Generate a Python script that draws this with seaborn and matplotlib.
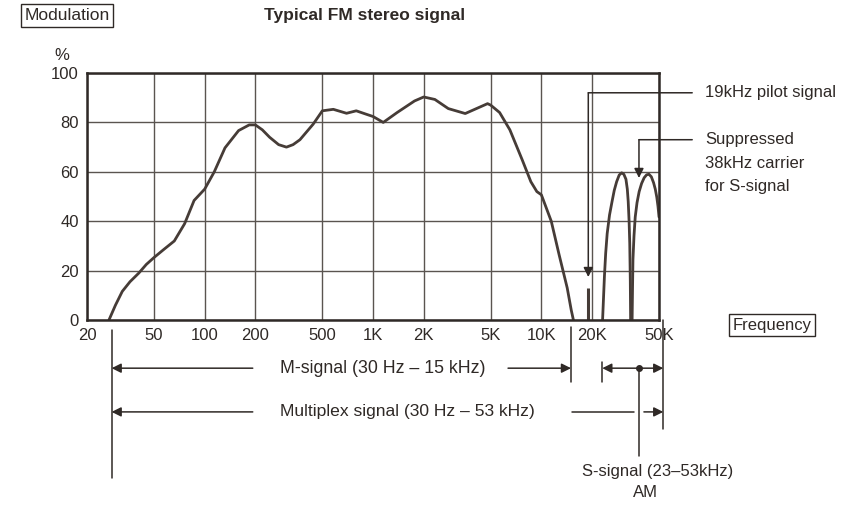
import matplotlib
matplotlib.use("Agg")
import matplotlib.pyplot as plt
import matplotlib.transforms as mtransforms
from matplotlib.ticker import NullLocator
import pandas as pd
import seaborn as sns

# M-signal spectrum (Hz, % modulation)
m_freq = [27, 29.5, 32.4, 36, 40.6, 45, 50, 57, 66, 76, 86.5, 100, 114, 132,
          159, 184, 200, 220, 243, 275, 306, 335, 368, 441, 500, 581, 696,
          795, 913, 1000, 1150, 1390, 1765, 2000, 2330, 2800, 3530, 4240,
          4790, 5000, 5650, 6500, 7680, 8660, 9400, 10000, 11450, 12750,
          14240, 15050, 15500]
m_level = [0, 6, 11.6, 15.5, 19, 22.5, 25.3, 28.5, 32, 39, 48.4, 53, 60, 69.7,
           76.7, 79, 79, 77, 74, 71, 70, 71, 73, 79.3, 84.7, 85.3, 83.7,
           84.7, 83.3, 82.4, 80, 84, 88.7, 90.3, 89.3, 85.6, 83.6, 86,
           87.6, 87, 84, 77, 65, 56, 52, 50.7, 40, 26.4,
           13, 4, 0]

# S-signal sidebands around the suppressed 38 kHz carrier
lobe1_freq = [23100, 23400, 23700, 24100, 24600, 25400, 26300, 27100, 28000,
              29000, 30000, 30900, 31800, 32400, 32800, 33200, 33500, 33750, 33900]
lobe1_level = [0, 9, 17.9, 27, 35, 42.5, 48, 52.5, 56,
               58.7, 59.6, 59, 57, 53, 48, 40, 31, 16, 0]
lobe2_freq = [34600, 34800, 35000, 35500, 36100, 37000, 38100, 39400, 40800,
              42200, 43600, 45000, 46400, 47500, 48500, 49300, 50000]
lobe2_level = [0, 13, 24.5, 34, 41.7, 47.5, 52, 55.3, 57.6,
               58.8, 59, 58, 55.6, 53, 49.7, 46, 41.7]

pilot_freq = 19000
pilot_level = 13
carrier_freq = 38000

# signal bands (Hz)
m_band = (28, 15000)
mpx_band = (28, 53000)
s_band = (23000, 53000)

freq_ticks = [20, 50, 100, 200, 500, 1000, 2000, 5000, 10000, 20000, 50000]
freq_labels = ["20", "50", "100", "200", "500", "1K", "2K", "5K", "10K", "20K", "50K"]
level_ticks = [0, 20, 40, 60, 80, 100]

INK = "#2f2926"
CURVE = "#463c37"
GRID = "#5a5450"

sns.set_theme(style="white")
plt.rcParams["font.family"] = ["Liberation Sans", "DejaVu Sans"]

fig = plt.figure(figsize=(8.54, 5.05), dpi=100)
ax = fig.add_axes([0.1019, 0.3663, 0.6698, 0.4891])

rows = []
for seg, (fx, lv) in enumerate([(m_freq, m_level), (lobe1_freq, lobe1_level),
                                (lobe2_freq, lobe2_level)]):
    for f, v in zip(fx, lv):
        rows.append({"freq": f, "level": v, "segment": seg})
df = pd.DataFrame(rows)

sns.lineplot(data=df, x="freq", y="level", units="segment", estimator=None,
             sort=False, color=CURVE, lw=2, ax=ax)
ax.vlines(pilot_freq, 0, pilot_level, color=CURVE, lw=2.2)

ax.set_xscale("log")
ax.set_xlim(20, 50000)
ax.set_ylim(0, 100)
ax.set_xticks(freq_ticks, freq_labels)
ax.xaxis.set_minor_locator(NullLocator())
ax.set_yticks(level_ticks)
ax.grid(True, color=GRID, lw=1)
ax.tick_params(length=0, labelsize=12, colors=INK, pad=6)
ax.set_xlabel("")
ax.set_ylabel("")
for sp in ax.spines.values():
    sp.set_visible(True)
    sp.set_color(INK)
    sp.set_linewidth(1.8)

# header texts
box = dict(boxstyle="square,pad=0.22", fc="white", ec=INK, lw=1)
fig.text(0.0785, 0.969, "Modulation", fontsize=12.5, color=INK, ha="center", va="center", bbox=box)
fig.text(0.427, 0.970, "Typical FM stereo signal", fontsize=12.5, fontweight="bold",
         color=INK, ha="center", va="center")
fig.text(0.0726, 0.891, "%", fontsize=12, color=INK, ha="center", va="center")
fig.text(0.904, 0.356, "Frequency", fontsize=12, color=INK, ha="center", va="center", bbox=box)

# right-hand callouts
blend = mtransforms.blended_transform_factory(ax.transAxes, ax.transData)
arr = dict(arrowstyle="-|>", color=INK, lw=1.1, mutation_scale=14, shrinkA=0, shrinkB=0)
plain = dict(arrowstyle="-", color=INK, lw=1.1, shrinkA=0, shrinkB=0)

ax.annotate("", xy=(pilot_freq, 17.4), xytext=(pilot_freq, 92), arrowprops=arr)
ax.annotate("", xy=(pilot_freq, 92), xytext=(1.058, 92), textcoords=blend, arrowprops=plain)
ax.text(1.08, 92, "19kHz pilot signal", transform=blend, fontsize=12, color=INK, va="center")

ax.annotate("", xy=(carrier_freq, 57.5), xytext=(carrier_freq, 73), arrowprops=arr)
ax.annotate("", xy=(carrier_freq, 73), xytext=(1.058, 73), textcoords=blend, arrowprops=plain)
ax.text(1.08, 73, "Suppressed", transform=blend, fontsize=12, color=INK, va="center")
ax.text(1.08, 63.5, "38kHz carrier", transform=blend, fontsize=12, color=INK, va="center")
ax.text(1.08, 54, "for S-signal", transform=blend, fontsize=12, color=INK, va="center")

# band markers below the axis
m_row, mpx_row = -19.5, -37.2
lk = dict(color=INK, lw=1.1, clip_on=False)
ax.plot([m_band[0], m_band[0]], [-4, -64], **lk)
ax.plot([m_band[1], m_band[1]], [-3, -25], **lk)
ax.plot([s_band[0], s_band[0]], [-17, -25], **lk)
ax.plot([s_band[1], s_band[1]], [0, -44], **lk)
ax.plot([carrier_freq, carrier_freq], [m_row, -55], **lk)
ax.plot(carrier_freq, m_row, "o", ms=4, color=INK, clip_on=False)

ax.annotate("", xy=(m_band[0], m_row), xytext=(193, m_row), arrowprops=arr, annotation_clip=False)
ax.annotate("", xy=(m_band[1], m_row), xytext=(6340, m_row), arrowprops=arr, annotation_clip=False)
ax.text(280, m_row, "M-signal (30 Hz \u2013 15 kHz)", fontsize=12.75, color=INK,
        ha="left", va="center")

ax.annotate("", xy=(mpx_band[0], mpx_row), xytext=(193, mpx_row), arrowprops=arr, annotation_clip=False)
ax.plot([15200, carrier_freq / 1.07], [mpx_row, mpx_row], **lk)
ax.annotate("", xy=(mpx_band[1], mpx_row), xytext=(carrier_freq * 1.07, mpx_row),
            arrowprops=arr, annotation_clip=False)
ax.text(280, mpx_row, "Multiplex signal (30 Hz \u2013 53 kHz)", fontsize=12.6, color=INK,
        ha="left", va="center")

ax.annotate("", xy=(s_band[0], m_row), xytext=(s_band[1], m_row),
            arrowprops=dict(arrowstyle="<|-|>", color=INK, lw=1.1, mutation_scale=14,
                            shrinkA=0, shrinkB=0), annotation_clip=False)
ax.text(49000, -61.5, "S-signal (23\u201353kHz)", fontsize=12, color=INK, ha="center", va="center")
ax.text(41400, -70, "AM", fontsize=12, color=INK, ha="center", va="center")

fig.savefig("out.png", dpi=100)
